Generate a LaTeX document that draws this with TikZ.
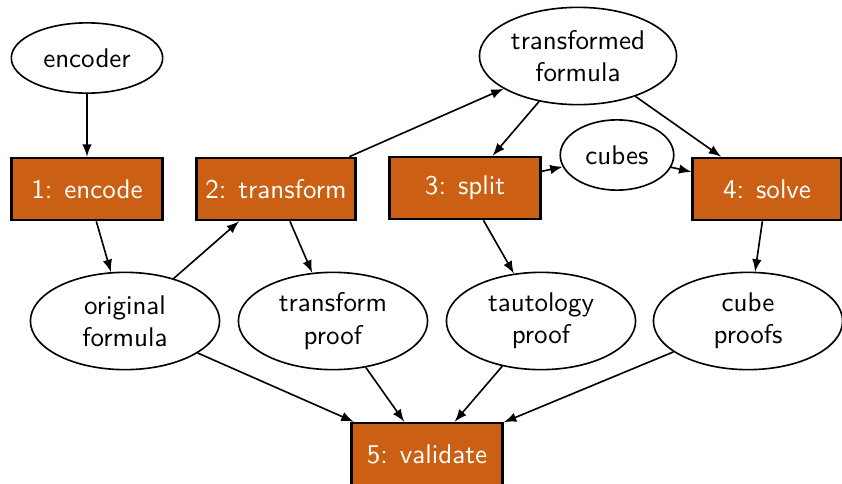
\documentclass[tikz,border=0pt]{standalone}
\usepackage{xcolor}
\usepackage{tikz}
\usetikzlibrary{shapes,arrows,positioning,fit}

\definecolor{stepcol}{RGB}{203,96,21}

\begin{document}
\begin{tikzpicture}[
    x=0.37pt, y=-0.37pt,
    font=\sffamily,
    data/.style={ellipse, draw, semithick, align=center, minimum width=70pt, minimum height=36pt, inner sep=1pt},
    stepbox/.style={rectangle, draw, line width=0.9pt, fill=stepcol, text=white, minimum width=56pt, minimum height=23pt}
]
\useasboundingbox (0,0) rectangle (842,483);

% Top row
\node[data, minimum width=56pt, minimum height=26pt] (encoder) at (87,58) {encoder};
\node[data] (tformula) at (578,56) {transformed\\formula};
\node[data, minimum width=42pt, minimum height=26pt] (cubes) at (617,155) {cubes};

% Steps
\node[stepbox] (encode) at (87,189) {1: encode};
\node[stepbox, minimum width=58pt] (transform) at (276,189) {2: transform};
\node[stepbox] (split) at (465,188) {3: split};
\node[stepbox, minimum width=55pt] (solve) at (767,189) {4: solve};

% Proofs
\node[data] (orig) at (125,321) {original\\formula};
\node[data] (tproof) at (333,321) {transform\\proof};
\node[data] (taut) at (541,321) {tautology\\proof};
\node[data] (cproofs) at (748,321) {cube\\proofs};

% Bottom
\node[stepbox] (validate) at (427,454) {5: validate};

% Arrows
\draw[-latex, semithick] (encoder) -- (encode);
\draw[-latex, semithick] (encode) -- (orig);
\draw[-latex, semithick] (orig) -- (transform);
\draw[-latex, semithick] (transform) -- (tformula);
\draw[-latex, semithick] (transform) -- (tproof);
\draw[-latex, semithick] (tformula) -- (split);
\draw[-latex, semithick] (tformula) -- (solve);
\draw[-latex, semithick] (split) -- (cubes);
\draw[-latex, semithick] (cubes) -- (solve);
\draw[-latex, semithick] (split) -- (taut);
\draw[-latex, semithick] (solve) -- (cproofs);
\draw[-latex, semithick] (orig) -- (validate);
\draw[-latex, semithick] (tproof) -- (validate);
\draw[-latex, semithick] (taut) -- (validate);
\draw[-latex, semithick] (cproofs) -- (validate);

\end{tikzpicture}
\end{document}
